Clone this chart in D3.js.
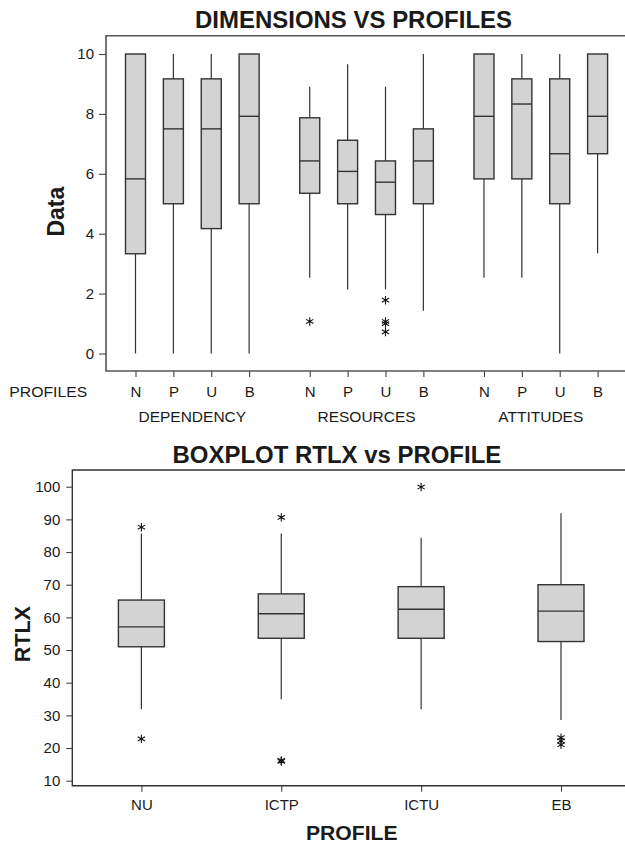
<!DOCTYPE html>
<html><head><meta charset="utf-8">
<script src="https://cdn.jsdelivr.net/npm/d3@7"></script>
<style>
body{margin:0;background:#fff;}
svg{display:block;font-family:"Liberation Sans",Arial,sans-serif;}
</style></head>
<body><svg id="c" width="625" height="845"></svg>
<script>
// ---------- Data: top chart (DIMENSIONS VS PROFILES) ----------
const profiles = ["N", "P", "U", "B"];
const dimensions = ["DEPENDENCY", "RESOURCES", "ATTITUDES"];
const dimLow    = [[0, 0, 0, 0],          [2.53, 2.14, 2.14, 1.43], [2.53, 2.53, 0, 3.35]];
const dimQ1     = [[3.33, 5.0, 4.17, 5.0],[5.35, 5.0, 4.64, 5.0],   [5.83, 5.83, 5.0, 6.67]];
const dimMedian = [[5.83, 7.5, 7.5, 7.92],[6.43, 6.08, 5.72, 6.43], [7.92, 8.33, 6.67, 7.92]];
const dimQ3     = [[10, 9.17, 9.17, 10],  [7.87, 7.12, 6.43, 7.5],  [10, 9.17, 9.17, 10]];
const dimHigh   = [[10, 10, 10, 10],      [8.91, 9.66, 8.91, 10],   [10, 10, 10, 10]];
const dimOutliers = [[[], [], [], []], [[1.07], [], [1.78, 1.07, 1.0, 0.72], []], [[], [], [], []]];
const dimTicks = [0, 2, 4, 6, 8, 10];

// ---------- Data: bottom chart (BOXPLOT RTLX vs PROFILE) ----------
const rtlxProfiles = ["NU", "ICTP", "ICTU", "EB"];
const rtlxLow    = [31.9, 34.9, 31.9, 28.6];
const rtlxQ1     = [51.0, 53.6, 53.6, 52.6];
const rtlxMedian = [57.1, 61.1, 62.5, 61.9];
const rtlxQ3     = [65.3, 67.2, 69.4, 70.0];
const rtlxHigh   = [85.7, 85.7, 84.4, 91.9];
const rtlxOutliers = [[87.6, 22.8], [90.6, 16.2, 15.9], [99.9], [23.2, 22.2, 21.0]];
const rtlxTicks = [10, 20, 30, 40, 50, 60, 70, 80, 90, 100];

const svg = d3.select("#c");
const TXT = "#1a1a1a", LINE = "#333", FILL = "#d3d3d3";

function asterisk(g, cx, cy, r) {
  const c = Math.cos(Math.PI / 6) * r, s = Math.sin(Math.PI / 6) * r;
  g.append("path")
    .attr("d", `M${cx},${cy - r}L${cx},${cy + r}M${cx - c},${cy - s}L${cx + c},${cy + s}M${cx - c},${cy + s}L${cx + c},${cy - s}`)
    .attr("stroke", "#111").attr("stroke-width", 1.1).attr("fill", "none");
}

function drawBox(g, cx, w, y, lo, q1, med, q3, hi, outs) {
  g.append("line").attr("x1", cx).attr("x2", cx).attr("y1", y(q3)).attr("y2", y(hi))
    .attr("stroke", LINE).attr("stroke-width", 1.2);
  g.append("line").attr("x1", cx).attr("x2", cx).attr("y1", y(q1)).attr("y2", y(lo))
    .attr("stroke", LINE).attr("stroke-width", 1.2);
  g.append("rect").attr("x", cx - w / 2).attr("width", w)
    .attr("y", y(q3)).attr("height", y(q1) - y(q3))
    .attr("fill", FILL).attr("stroke", LINE).attr("stroke-width", 1.4);
  g.append("line").attr("x1", cx - w / 2).attr("x2", cx + w / 2).attr("y1", y(med)).attr("y2", y(med))
    .attr("stroke", LINE).attr("stroke-width", 1.4);
  outs.forEach(v => asterisk(g, cx, y(v), 4.2));
}

function styleAxis(a) {
  a.select(".domain").remove();
  a.selectAll(".tick line").attr("stroke", "#444").attr("stroke-width", 1.1);
  a.selectAll(".tick text").attr("fill", TXT).style("font-size", "15px")
    .style("font-family", "'Liberation Sans',Arial,sans-serif");
}

// ================= TOP CHART =================
{
  const left = 106, top = 35.7, bottom = 371, right = 640;
  const y = d3.scaleLinear().domain([0, 10]).range([353.5, 54]);
  const slot = (gi, pi) => gi * 4.6 + pi;
  const x = d3.scaleLinear().domain([0, 12.2]).range([135.5, 597.6]);
  const g = svg.append("g");

  g.append("text").attr("x", 353.5).attr("y", 28.3).attr("text-anchor", "middle")
    .attr("font-weight", "bold").attr("font-size", 23).attr("fill", TXT)
    .attr("textLength", 317).attr("lengthAdjust", "spacingAndGlyphs")
    .text("DIMENSIONS VS PROFILES");

  g.append("path").attr("d", `M${right},${top}H${left}V${bottom}H${right}`)
    .attr("fill", "none").attr("stroke", "#555").attr("stroke-width", 1.6);

  const ya = g.append("g").attr("transform", `translate(${left},0)`)
    .call(d3.axisLeft(y).tickValues(dimTicks).tickSize(7).tickPadding(5).tickFormat(d3.format("d")));
  styleAxis(ya);

  const xTickVals = [], xTickLabels = {};
  dimensions.forEach((d, gi) => profiles.forEach((p, pi) => {
    const s = slot(gi, pi); xTickVals.push(s); xTickLabels[s] = p;
  }));
  const xa = g.append("g").attr("transform", `translate(0,${bottom})`)
    .call(d3.axisBottom(x).tickValues(xTickVals).tickSize(6).tickPadding(9.4).tickFormat(v => xTickLabels[v]));
  styleAxis(xa);

  g.append("text").attr("x", 9.3).attr("y", 397).attr("font-size", 15).attr("fill", TXT)
    .attr("textLength", 78).attr("lengthAdjust", "spacingAndGlyphs").text("PROFILES");

  dimensions.forEach((d, gi) => {
    g.append("text").attr("x", (x(slot(gi, 0)) + x(slot(gi, 3))) / 2).attr("y", 421.7)
      .attr("text-anchor", "middle").attr("font-size", 15.5).attr("fill", TXT).text(d);
  });

  g.append("text").attr("transform", "translate(63.7,211.7) rotate(-90)").attr("text-anchor", "middle")
    .attr("font-weight", "bold").attr("font-size", 23).attr("fill", TXT).text("Data");

  dimensions.forEach((d, gi) => profiles.forEach((p, pi) => {
    drawBox(g, x(slot(gi, pi)), 20, y, dimLow[gi][pi], dimQ1[gi][pi], dimMedian[gi][pi],
      dimQ3[gi][pi], dimHigh[gi][pi], dimOutliers[gi][pi]);
  }));
}

// ================= BOTTOM CHART =================
{
  const left = 72.3, top = 470, bottom = 785.7, right = 640;
  const y = d3.scaleLinear().domain([10, 100]).range([780.7, 486.7]);
  const x = d3.scalePoint().domain(rtlxProfiles).range([141.4, 561]);
  const g = svg.append("g");

  g.append("text").attr("x", 336.9).attr("y", 463.3).attr("text-anchor", "middle")
    .attr("font-weight", "bold").attr("font-size", 23).attr("fill", TXT)
    .attr("textLength", 328.7).attr("lengthAdjust", "spacingAndGlyphs")
    .text("BOXPLOT RTLX vs PROFILE");

  g.append("path").attr("d", `M${right},${top}H${left}V${bottom}H${right}`)
    .attr("fill", "none").attr("stroke", "#333").attr("stroke-width", 1.4);

  const ya = g.append("g").attr("transform", `translate(${left},0)`)
    .call(d3.axisLeft(y).tickValues(rtlxTicks).tickSize(6).tickPadding(6).tickFormat(d3.format("d")));
  styleAxis(ya);

  const xa = g.append("g").attr("transform", `translate(0,${bottom})`)
    .call(d3.axisBottom(x).tickSize(6).tickPadding(7.6));
  styleAxis(xa);

  g.append("text").attr("transform", "translate(30,634.2) rotate(-90)").attr("text-anchor", "middle")
    .attr("font-weight", "bold").attr("font-size", 21.5).attr("fill", TXT).text("RTLX");

  g.append("text").attr("x", 351.8).attr("y", 839.5).attr("text-anchor", "middle")
    .attr("font-weight", "bold").attr("font-size", 21).attr("fill", TXT)
    .attr("textLength", 91.6).attr("lengthAdjust", "spacingAndGlyphs").text("PROFILE");

  rtlxProfiles.forEach((p, i) => {
    drawBox(g, x(p), 46, y, rtlxLow[i], rtlxQ1[i], rtlxMedian[i], rtlxQ3[i], rtlxHigh[i], rtlxOutliers[i]);
  });
}
</script></body></html>
